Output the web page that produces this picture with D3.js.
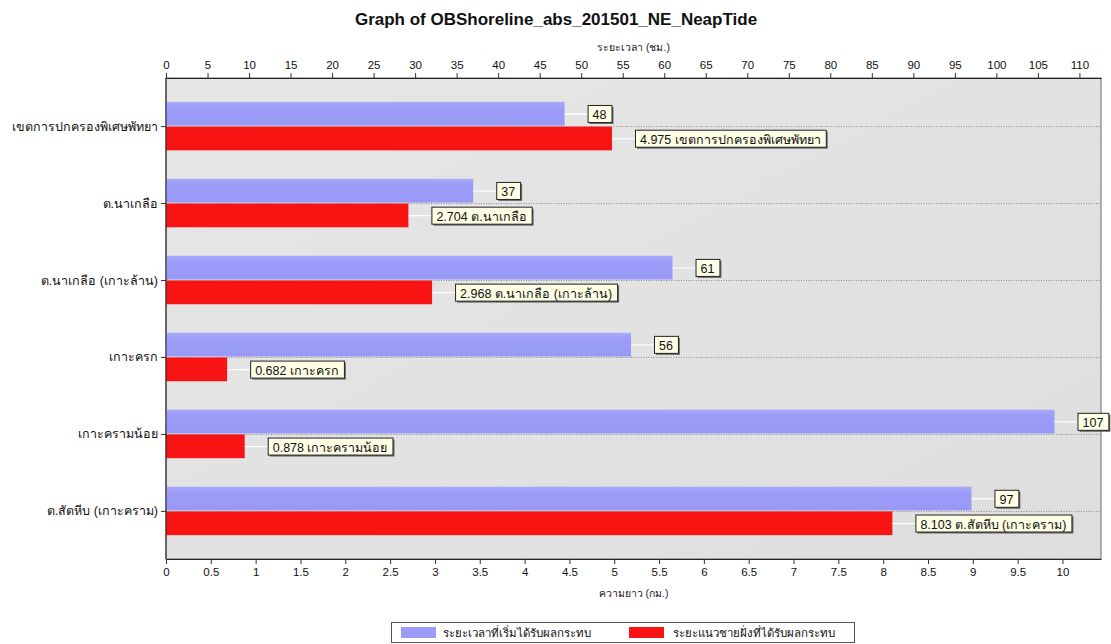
<!DOCTYPE html>
<html>
<head>
<meta charset="utf-8">
<script src="https://cdn.jsdelivr.net/npm/d3@7"></script>
<style>
  html, body { margin: 0; padding: 0; background: #fff; }
  svg { display: block; }
  text { font-family: Arial, "Liberation Sans", "Noto Sans", sans-serif; }
</style>
</head>
<body>
<svg id="chart" width="1111" height="644"></svg>
<script>
// Areas along the coast
const categories = [
  "เขตการปกครองพิเศษพัทยา",
  "ต.นาเกลือ",
  "ต.นาเกลือ (เกาะล้าน)",
  "เกาะครก",
  "เกาะครามน้อย",
  "ต.สัตหีบ (เกาะคราม)"
];
// Hours until the area is first affected (top axis)
const hoursAffected = [48, 37, 61, 56, 107, 97];
// Length of affected shoreline in km (bottom axis)
const shorelineKm = [4.975, 2.704, 2.968, 0.682, 0.878, 8.103];

const hourTicks = d3.range(0, 111, 5);
const kmTicks = d3.range(0, 10.01, 0.5);

const seriesNames = ["ระยะเวลาที่เริ่มได้รับผลกระทบ", "ระยะแนวชายฝั่งที่ได้รับผลกระทบ"];
const seriesColors = ["#9c9cf8", "#f91414"];

const W = 1111, H = 644;
const plot = { left: 166, top: 78, right: 1101, bottom: 559 };

const svg = d3.select("#chart");

const xHours = d3.scaleLinear().domain([0, 112.6]).range([plot.left, plot.right]);
const xKm = d3.scaleLinear().domain([0, 10.43]).range([plot.left, plot.right]);
const y = d3.scaleBand().domain(categories).range([plot.top, plot.bottom])
  .paddingInner(0.37).paddingOuter(0.31);
const half = y.bandwidth() / 2;

// Plot background
const defs = svg.append("defs");
const bg = defs.append("linearGradient").attr("id", "bg").attr("x1", 0).attr("y1", 0).attr("x2", 1).attr("y2", 1);
bg.append("stop").attr("offset", "0%").attr("stop-color", "#e6e6e6");
bg.append("stop").attr("offset", "100%").attr("stop-color", "#dedede");
const blueGrad = defs.append("linearGradient").attr("id", "blueBar").attr("x1", 0).attr("y1", 0).attr("x2", 0).attr("y2", 1);
blueGrad.append("stop").attr("offset", "0%").attr("stop-color", "#a8a8fb");
blueGrad.append("stop").attr("offset", "25%").attr("stop-color", "#9c9cf8");
blueGrad.append("stop").attr("offset", "100%").attr("stop-color", "#9898f6");

svg.append("rect")
  .attr("x", plot.left).attr("y", plot.top)
  .attr("width", plot.right - plot.left).attr("height", plot.bottom - plot.top)
  .attr("fill", "url(#bg)").attr("stroke", "#6a6a6a");

// Title
svg.append("text")
  .attr("x", 556).attr("y", 25)
  .attr("text-anchor", "middle")
  .attr("font-size", 17).attr("font-weight", "bold")
  .attr("fill", "#111")
  .text("Graph of OBShoreline_abs_201501_NE_NeapTide");

// Dotted grid lines at each category
svg.append("g").selectAll("line")
  .data(categories).join("line")
  .attr("x1", plot.left).attr("x2", plot.right)
  .attr("y1", d => y(d) + half + 0.5).attr("y2", d => y(d) + half + 0.5)
  .attr("stroke", "#8a8a8a").attr("stroke-width", 1).attr("stroke-dasharray", "1,1.5");

// Bars: hours (top half of band) and shoreline length (bottom half)
svg.append("g").selectAll("rect")
  .data(categories).join("rect")
  .attr("x", plot.left).attr("y", d => y(d))
  .attr("width", (d, i) => xHours(hoursAffected[i]) - plot.left)
  .attr("height", half - 0.5)
  .attr("fill", "url(#blueBar)");

svg.append("g").selectAll("rect")
  .data(categories).join("rect")
  .attr("x", plot.left).attr("y", d => y(d) + half + 0.5)
  .attr("width", (d, i) => xKm(shorelineKm[i]) - plot.left)
  .attr("height", half - 0.5)
  .attr("fill", seriesColors[1]);

// Axes
const axisFont = g => g.selectAll("text").attr("font-size", 11.5).attr("fill", "#111")
  .attr("font-family", "Arial, 'Liberation Sans', sans-serif");

const topAxis = svg.append("g").attr("transform", `translate(0,${plot.top})`)
  .call(d3.axisTop(xHours).tickValues(hourTicks).tickSize(5).tickSizeOuter(0).tickPadding(4).tickFormat(d3.format("d")))
  .call(axisFont);
topAxis.select(".domain").attr("stroke", "#222");
topAxis.selectAll(".tick line").attr("stroke", "#333");

const bottomAxis = svg.append("g").attr("transform", `translate(0,${plot.bottom})`)
  .call(d3.axisBottom(xKm).tickValues(kmTicks).tickSize(5).tickSizeOuter(0).tickPadding(4).tickFormat(d => String(+d.toFixed(1))))
  .call(axisFont);
bottomAxis.select(".domain").attr("stroke", "#222");
bottomAxis.selectAll(".tick line").attr("stroke", "#333");

const leftAxis = svg.append("g").attr("transform", `translate(${plot.left},0)`)
  .call(d3.axisLeft(y).tickSize(5).tickSizeOuter(0).tickPadding(3).offset(0))
  .call(axisFont);
leftAxis.selectAll(".tick").attr("transform", d => `translate(0,${y(d) + half + 0.5})`);
leftAxis.select(".domain").attr("stroke", "#222");
leftAxis.selectAll(".tick line").attr("stroke", "#333");
leftAxis.selectAll("text").attr("font-size", 12.5);

// Axis titles
svg.append("text").attr("x", (plot.left + plot.right) / 2).attr("y", 51)
  .attr("text-anchor", "middle").attr("font-size", 10.5).attr("fill", "#222")
  .text("ระยะเวลา (ชม.)");
svg.append("text").attr("x", (plot.left + plot.right) / 2).attr("y", 597)
  .attr("text-anchor", "middle").attr("font-size", 10.5).attr("fill", "#222")
  .text("ความยาว (กม.)");

// Value labels with leader lines
const labels = svg.append("g");
function addLabel(x0, yc, text) {
  const gap = 23;
  labels.append("line")
    .attr("x1", x0).attr("x2", x0 + gap)
    .attr("y1", yc).attr("y2", yc)
    .attr("stroke", "#ffffff").attr("stroke-width", 1.2);
  const g = labels.append("g");
  const t = g.append("text")
    .attr("x", x0 + gap + 5).attr("y", yc + 5)
    .attr("font-size", 12.5).attr("fill", "#111")
    .text(text);
  const w = t.node().getComputedTextLength() + 10;
  const bx = x0 + gap, by = yc - 9, bh = 17;
  g.insert("rect", "text").attr("x", bx + 2).attr("y", by + 2).attr("width", w).attr("height", bh)
    .attr("fill", "#6a6a6a");
  g.insert("rect", "text").attr("x", bx + 0.5).attr("y", by + 0.5).attr("width", w).attr("height", bh)
    .attr("fill", "#ffffe6").attr("stroke", "#222").attr("stroke-width", 1);
}
categories.forEach((c, i) => {
  addLabel(xHours(hoursAffected[i]), y(c) + half / 2, String(hoursAffected[i]));
  addLabel(xKm(shorelineKm[i]), y(c) + half * 1.5 + 0.5, `${shorelineKm[i]} ${c}`);
});

// Legend
const legend = svg.append("g");
legend.append("rect").attr("x", 391.5).attr("y", 622.5).attr("width", 463).attr("height", 20)
  .attr("fill", "#fff").attr("stroke", "#555");
const legendItems = [
  { x: 401, tx: 443 },
  { x: 629, tx: 673 }
];
legendItems.forEach((it, i) => {
  legend.append("rect").attr("x", it.x).attr("y", 627).attr("width", 35).attr("height", 11)
    .attr("fill", seriesColors[i]);
  legend.append("text").attr("x", it.tx).attr("y", 637)
    .attr("font-size", 11.5).attr("fill", "#111").text(seriesNames[i]);
});
</script>
</body>
</html>
